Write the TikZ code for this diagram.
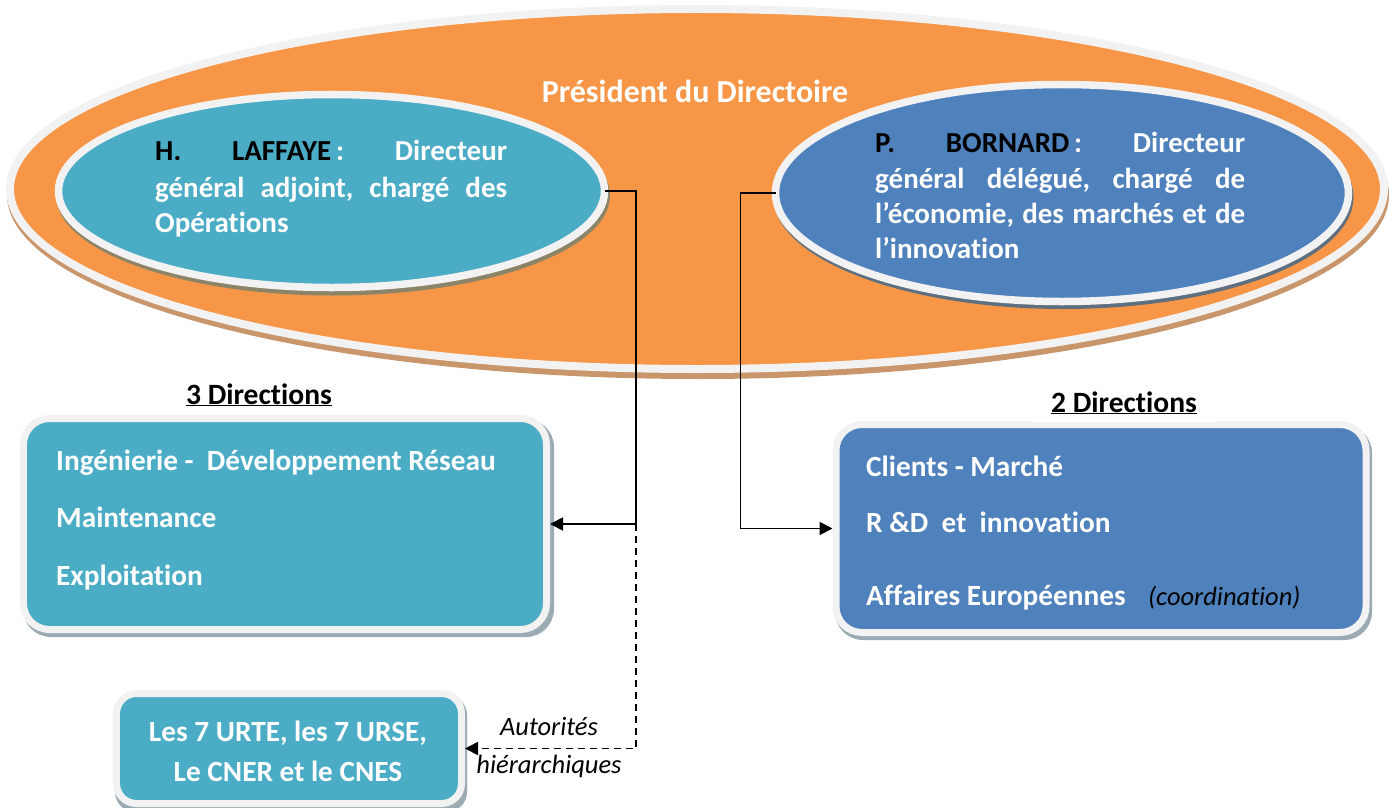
\documentclass[tikz,border=0pt]{standalone}
\usepackage{fontspec}
\setmainfont{Carlito}[Ligatures=NoCommon]
\usetikzlibrary{arrows.meta,shapes.geometric}
\definecolor{orng}{HTML}{F79646}
\definecolor{tealc}{HTML}{4BACC6}
\definecolor{bluec}{HTML}{4F81BD}
\definecolor{rim}{HTML}{F2F2F2}
\definecolor{oshadow}{HTML}{C9956A}
\definecolor{tshadow}{HTML}{8C8468}
\definecolor{bshadow}{HTML}{5E6F80}
\definecolor{boxshadow}{HTML}{9AABB4}
\begin{document}
\begin{tikzpicture}[x=1bp,y=-1bp,
  ell/.style={ellipse, draw=rim, line width=7.5bp, inner sep=0pt, outer sep=0pt},
  rbox/.style={rectangle, draw=rim, line width=7bp, inner sep=0pt, rounded corners=26bp},
  conn/.style={line width=1.8bp, black},
  tip/.style={-{Triangle[length=13bp,width=13bp]}},
  wtext/.style={font=\bfseries\fontsize{29bp}{36bp}\selectfont, text=white, inner sep=0pt, anchor=base west},
  btext/.style={font=\bfseries\fontsize{29.3bp}{34bp}\selectfont, text=white, inner sep=0pt, anchor=base west},
  itext/.style={font=\itshape\fontsize{26.5bp}{30bp}\selectfont, text=black, inner sep=0pt, anchor=base},
  head/.style={font=\bfseries\fontsize{29.5bp}{32bp}\selectfont, text=black, anchor=base}
]
\useasboundingbox (0,0) rectangle (1393,807);
% big ellipse
\fill[oshadow] (698,195) ellipse [x radius=691, y radius=184];
\node[ell, fill=orng, line width=8bp, minimum width=1374bp, minimum height=360bp] (pdg) at (697,189) {};
\node[font=\bfseries\fontsize{32bp}{34bp}\selectfont, text=white, anchor=base, inner sep=0pt] (prestxt) at (695,102) {Président du Directoire};
% teal ellipse
\fill[tshadow] (333,195.5) ellipse [x radius=277, y radius=100];
\node[ell, fill=tealc, minimum width=546bp, minimum height=193bp] (laf) at (331.5,191) {};
% blue ellipse
\fill[bshadow] (1063.5,197) ellipse [x radius=290, y radius=112];
\node[ell, fill=bluec, minimum width=573bp, minimum height=217bp] (bor) at (1062,193) {};
% ellipse texts
\node[wtext] (l1) at (155,160) {\hbox to 352bp{\textcolor{black}{H.}\hfill\textcolor{black}{LAFFAYE}\,:\hfill Directeur}};
\node[wtext] (l2) at (155,197) {\hbox to 352bp{général\hfill adjoint,\hfill chargé\hfill des}};
\node[wtext] (l3) at (155,232) {Opérations};
\node[wtext] (b1) at (875,152) {\hbox to 370bp{\textcolor{black}{P.}\hfill\textcolor{black}{BORNARD}\,:\hfill Directeur}};
\node[wtext] (b2) at (875,188) {\hbox to 370bp{général\hfill délégué,\hfill chargé\hfill de}};
\node[wtext] (b3) at (875,223) {\hbox to 370bp{l’économie,\hfill des\hfill marchés\hfill et\hfill de}};
\node[wtext] (b4) at (875,258) {l’innovation};
% boxes
\fill[boxshadow, rounded corners=28bp] (23,419) rectangle (554,637);
\node[rbox, fill=tealc, minimum width=523bp, minimum height=211bp] (dir3) at (285,524) {};
\fill[boxshadow, rounded corners=28bp] (835,425) rectangle (1372,640);
\node[rbox, fill=bluec, minimum width=530bp, minimum height=208bp] (dir2) at (1101,528.5) {};
\fill[boxshadow, rounded corners=20bp] (115,695) rectangle (467,812);
\node[rbox, fill=tealc, rounded corners=20bp, minimum width=345bp, minimum height=110bp] (urte) at (289,748.5) {};
% headings
\node[head] (h3) at (259,404) {\underline{3 Directions}};
\node[head, fill=white, inner xsep=20bp, inner ysep=8bp] (h2) at (1124,412) {\underline{2 Directions}};
% box texts
\node[btext] (d31) at (56,470) {Ingénierie -\ \ Développement Réseau};
\node[btext] (d32) at (56,527) {Maintenance};
\node[btext] (d33) at (56,585) {Exploitation};
\node[btext] (d21) at (866,476) {Clients - Marché};
\node[btext] (d22) at (866,532) {R \&D\ \ et\ \ innovation};
\node[btext] (d23) at (866,605) {Affaires Européennes};
\node[itext, anchor=base west] (coord) at (1148,605) {(coordination)};
\node[btext, anchor=base] (u1) at (288,741) {Les 7 URTE, les 7 URSE,};
\node[btext, anchor=base] (u2) at (288,781) {Le CNER et le CNES};
% connectors
\coordinate (j1) at (636,524);
\draw[conn, tip] (laf.east) -- (laf.east -| j1) |- (dir3.east);
\draw[conn, tip, dash pattern=on 7bp off 5bp] (j1) |- (urte.east);
\draw[conn, tip] (bor.west) -- ++(-35,0) |- (dir2.west);
\node[itext] (aut1) at (549,735) {Autorités};
\node[itext] (aut2) at (549,773) {hiérarchiques};
\end{tikzpicture}
\end{document}
